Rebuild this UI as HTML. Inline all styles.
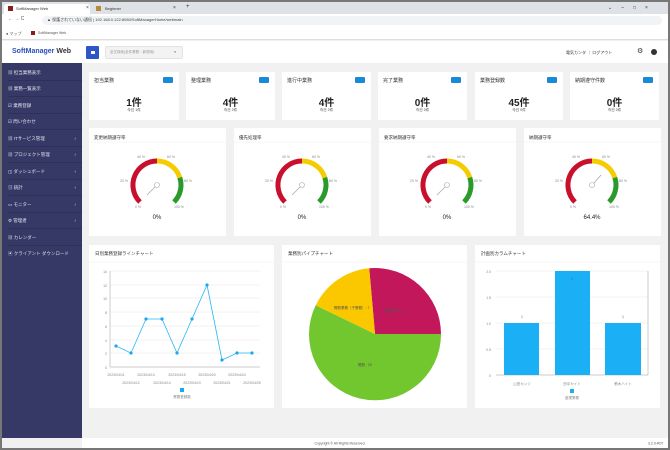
<!DOCTYPE html>
<html><head><meta charset="utf-8"><style>
*{margin:0;padding:0;box-sizing:border-box}
body{width:670px;height:450px;overflow:hidden;background:#777;font-family:"Liberation Sans","Noto Sans CJK JP",sans-serif;position:relative}
.a{position:absolute}
.card{position:absolute;background:#fff}
.t{font-size:5px;color:#333;position:absolute}
.sb div{position:absolute;left:6px;font-size:4.5px;color:#dfe0ee;height:16px;line-height:16px;width:74px;border-bottom:1px solid #2d3158}
.badge{position:absolute;width:10px;height:6px;background:#1a8ad6;border-radius:1px}
.big{position:absolute;left:0;right:0;text-align:center;font-size:10px;font-weight:bold;color:#222}
.sm{position:absolute;left:0;right:0;text-align:center;font-size:3.5px;color:#444}
</style></head><body>
<div class="a" style="left:2px;top:2px;width:666px;height:446px;background:#f1f1f1"></div>
<div class="a" style="left:2px;top:2px;width:666px;height:12px;background:#dee1e6"></div>
<div class="a" style="left:4px;top:4px;width:86px;height:10px;background:#fff;border-radius:3px 3px 0 0"></div>
<div class="a" style="left:8px;top:6px;width:5px;height:5px;background:#8b1c1c"></div>
<div class="t" style="left:16px;top:6px;font-size:4px">SoftManager Web</div>
<div class="t" style="left:86px;top:5px;font-size:5px">×</div>
<div class="a" style="left:96px;top:6px;width:5px;height:5px;background:#b58b3a"></div>
<div class="t" style="left:105px;top:6px;font-size:4px">Beginner</div>
<div class="t" style="left:173px;top:5px;font-size:5px">×</div>
<div class="t" style="left:186px;top:4px;font-size:6px">+</div>
<div class="t" style="left:608px;top:5px;font-size:5px;letter-spacing:9px">⌄–□×</div>
<div class="a" style="left:2px;top:14px;width:666px;height:13px;background:#fff"></div>
<div class="a" style="left:42px;top:16px;width:620px;height:9px;background:#f1f3f4;border-radius:5px"></div>
<div class="t" style="left:8px;top:16px;font-size:5px;color:#555">←  →  C</div>
<div class="t" style="left:47px;top:17px;font-size:4px;color:#444">▲ 保護されていない通信 | 192.168.0.122:8080/SoftManagerHome/webmain</div>
<div class="a" style="left:2px;top:27px;width:666px;height:13px;background:#fff;border-bottom:1px solid #ddd"></div>
<div class="t" style="left:6px;top:31px;font-size:4px;color:#555">● マップ</div>
<div class="a" style="left:31px;top:31px;width:4px;height:4px;background:#8b1c1c"></div>
<div class="t" style="left:38px;top:31px;font-size:3.5px;color:#555">SoftManager Web</div>
<div class="a" style="left:2px;top:41px;width:666px;height:22px;background:#fff"></div>
<div class="t" style="left:12px;top:48px;font-size:7px;color:#2b4fb8;font-weight:bold">SoftManager <span style="color:#333">Web</span></div>
<div class="a" style="left:86px;top:46px;width:13px;height:13px;background:#2d56c8;border-radius:1px"></div>
<div class="a" style="left:91px;top:51px;width:4px;height:3px;background:#fff"></div>
<div class="a" style="left:105px;top:46px;width:78px;height:13px;background:#f3f3f3;border:1px solid #e3e3e3;border-radius:2px"></div>
<div class="t" style="left:110px;top:50px;font-size:3.5px;color:#999">全文検索(全件業務・新規用)</div>
<div class="t" style="left:174px;top:49px;font-size:4px;color:#555">⌕</div>
<div class="t" style="left:566px;top:50px;font-size:4px;color:#333">電気カンタ ｜ ログアウト</div>
<div class="t" style="left:637px;top:47px;font-size:7px;color:#333">⚙</div>
<div class="a" style="left:651px;top:49px;width:6px;height:6px;border-radius:50%;background:#333"></div>
<div class="a sb" style="left:2px;top:63px;width:80px;height:375px;background:#363966">
<div style="top:2px">▦ 担当業務表示</div>
<div style="top:18px">▦ 業務一覧表示</div>
<div style="top:35px">☑ 業務登録</div>
<div style="top:51px">☑ 問い合わせ</div>
<div style="top:68px">▦ ITサービス管理 <span style="float:right;margin-right:6px">‹</span></div>
<div style="top:84px">▦ プロジェクト管理 <span style="float:right;margin-right:6px">‹</span></div>
<div style="top:101px">◫ ダッシュボード <span style="float:right;margin-right:6px">‹</span></div>
<div style="top:117px">▥ 統計 <span style="float:right;margin-right:6px">‹</span></div>
<div style="top:134px">▭ モニター <span style="float:right;margin-right:6px">‹</span></div>
<div style="top:150px">⚙ 管理者 <span style="float:right;margin-right:6px">‹</span></div>
<div style="top:167px">▦ カレンダー</div>
<div style="top:183px;border:none">▣ クライアント ダウンロード</div>
</div>
<div class="card" style="left:89px;top:72px;width:90px;height:48px"><div class="t" style="left:5px;top:5px">担当業務</div><div class="badge" style="left:74px;top:5px"></div><div class="big" style="top:22px">1件</div><div class="sm" style="top:36px">今日 1件</div></div>
<div class="card" style="left:186px;top:72px;width:89px;height:48px"><div class="t" style="left:5px;top:5px">整理業務</div><div class="badge" style="left:73px;top:5px"></div><div class="big" style="top:22px">4件</div><div class="sm" style="top:36px">今日 2件</div></div>
<div class="card" style="left:282px;top:72px;width:89px;height:48px"><div class="t" style="left:5px;top:5px">進行中業務</div><div class="badge" style="left:73px;top:5px"></div><div class="big" style="top:22px">4件</div><div class="sm" style="top:36px">今日 2件</div></div>
<div class="card" style="left:378px;top:72px;width:89px;height:48px"><div class="t" style="left:5px;top:5px">完了業務</div><div class="badge" style="left:73px;top:5px"></div><div class="big" style="top:22px">0件</div><div class="sm" style="top:36px">今日 0件</div></div>
<div class="card" style="left:475px;top:72px;width:88px;height:48px"><div class="t" style="left:5px;top:5px">業務登録数</div><div class="badge" style="left:72px;top:5px"></div><div class="big" style="top:22px">45件</div><div class="sm" style="top:36px">今日 0件</div></div>
<div class="card" style="left:570px;top:72px;width:89px;height:48px"><div class="t" style="left:5px;top:5px">納期遵守件数</div><div class="badge" style="left:73px;top:5px"></div><div class="big" style="top:22px">0件</div><div class="sm" style="top:36px">今日 0件</div></div>
<svg class="a" style="left:0;top:0" width="670" height="450" font-family="Liberation Sans" font-size="3.5" fill="#888">
<defs>
<g id="g">
<rect x="-68" y="-57" width="137" height="108" fill="#fff"/>
<line x1="-68" y1="-43" x2="69" y2="-43" stroke="#eee" stroke-width="0.5"/>
<path d="M-17,17 A24,24 0 0 1 0,-24" fill="none" stroke="#c8102e" stroke-width="5"/>
<path d="M0,-24 A24,24 0 0 1 22.8,-7.4" fill="none" stroke="#f4cc00" stroke-width="5"/>
<path d="M22.8,-7.4 A24,24 0 0 1 17,17" fill="none" stroke="#2a9a2a" stroke-width="5"/>
<text x="-22" y="23">0 %</text><text x="-37" y="-3">20 %</text><text x="-20" y="-27">40 %</text><text x="10" y="-27">60 %</text><text x="27" y="-3">80 %</text><text x="17" y="23">100 %</text>
<circle cx="0" cy="0" r="2.5" fill="#fff" stroke="#aaa" stroke-width="0.6"/>
</g>
</defs>
<use href="#g" x="157" y="185"/><use href="#g" x="302" y="185"/><use href="#g" x="447" y="185"/><use href="#g" x="592" y="185"/>
<g stroke="#aaa" stroke-width="0.8"><line x1="155" y1="187" x2="147" y2="195"/><line x1="300" y1="187" x2="292" y2="195"/><line x1="445" y1="187" x2="437" y2="195"/><line x1="594" y1="183" x2="601" y2="175"/></g>
<g fill="#222" font-size="6" text-anchor="middle"><text x="157" y="219">0%</text><text x="302" y="219">0%</text><text x="447" y="219">0%</text><text x="592" y="219">64.4%</text></g>
<g fill="#333" font-size="4.5" font-family="Liberation Sans, Noto Sans CJK JP"><text x="94" y="139">変更納期遵守率</text><text x="239" y="139">優先処理率</text><text x="384" y="139">要求納期遵守率</text><text x="529" y="139">納期遵守率</text></g>
<rect x="89" y="245" width="185" height="163" fill="#fff"/><rect x="282" y="245" width="185" height="163" fill="#fff"/><rect x="475" y="245" width="185" height="163" fill="#fff"/>
<g stroke="#eee" stroke-width="0.5"><line x1="89" y1="262" x2="274" y2="262"/><line x1="282" y1="262" x2="467" y2="262"/><line x1="475" y1="262" x2="660" y2="262"/></g>
<g fill="#333" font-size="4.5" font-family="Liberation Sans, Noto Sans CJK JP"><text x="95" y="255">日別業務登録ラインチャート</text><text x="288" y="255">業務別パイプチャート</text><text x="481" y="255">計画別カラムチャート</text></g>
<g stroke="#e6e6e6" stroke-width="0.5">
<line x1="110" y1="271" x2="260" y2="271"/><line x1="110" y1="285" x2="260" y2="285"/><line x1="110" y1="298" x2="260" y2="298"/><line x1="110" y1="312" x2="260" y2="312"/><line x1="110" y1="326" x2="260" y2="326"/><line x1="110" y1="340" x2="260" y2="340"/><line x1="110" y1="353" x2="260" y2="353"/></g>
<line x1="110" y1="271" x2="110" y2="367" stroke="#999" stroke-width="0.5"/><line x1="110" y1="367" x2="260" y2="367" stroke="#999" stroke-width="0.5"/>
<g text-anchor="end"><text x="107" y="273">14</text><text x="107" y="287">12</text><text x="107" y="300">10</text><text x="107" y="314">8</text><text x="107" y="328">6</text><text x="107" y="342">4</text><text x="107" y="355">2</text><text x="107" y="369">0</text></g>
<polyline fill="none" stroke="#29b6f6" stroke-width="0.8" points="116,346 131,353 146,319 162,319 177,353 192,319 207,285 222,360 237,353 252,353"/>
<g fill="#1ba9ee"><circle cx="116" cy="346" r="1.6"/><circle cx="131" cy="353" r="1.6"/><circle cx="146" cy="319" r="1.6"/><circle cx="162" cy="319" r="1.6"/><circle cx="177" cy="353" r="1.6"/><circle cx="192" cy="319" r="1.6"/><circle cx="207" cy="285" r="1.6"/><circle cx="222" cy="360" r="1.6"/><circle cx="237" cy="353" r="1.6"/><circle cx="252" cy="353" r="1.6"/></g>
<g text-anchor="middle"><text x="116" y="376">2023/04/11</text><text x="146" y="376">2023/04/13</text><text x="177" y="376">2023/04/15</text><text x="207" y="376">2023/04/20</text><text x="237" y="376">2023/04/24</text>
<text x="131" y="384">2023/04/12</text><text x="162" y="384">2023/04/14</text><text x="192" y="384">2023/04/19</text><text x="222" y="384">2023/04/21</text><text x="252" y="384">2023/04/25</text>
<text x="182" y="398" font-family="Liberation Sans, Noto Sans CJK JP">業務登録数</text></g>
<rect x="180" y="388" width="4" height="4" fill="#1ba9ee"/>
<path d="M375,334 L369.2,268.3 A66,66 0 0 1 441,334 Z" fill="#c2185b"/>
<path d="M375,334 L441,334 A66,66 0 1 1 315.7,305.3 Z" fill="#72c72f"/>
<path d="M375,334 L315.7,305.3 A66,66 0 0 1 369.2,268.3 Z" fill="#fbc800"/>
<g fill="#555" font-family="Liberation Sans, Noto Sans CJK JP"><text x="334" y="309">開発業務（子業務）: 7</text><text x="384" y="312">開発業務 : 12</text><text x="358" y="366">開発 : 25</text></g>
<g stroke="#e6e6e6" stroke-width="0.5"><line x1="496" y1="271" x2="648" y2="271"/><line x1="496" y1="297" x2="648" y2="297"/><line x1="496" y1="323" x2="648" y2="323"/><line x1="496" y1="349" x2="648" y2="349"/></g>
<line x1="496" y1="375" x2="648" y2="375" stroke="#999" stroke-width="0.5"/><line x1="648" y1="271" x2="648" y2="375" stroke="#999" stroke-width="0.5"/>
<g text-anchor="end"><text x="491" y="273">2.0</text><text x="491" y="299">1.5</text><text x="491" y="325">1.0</text><text x="491" y="351">0.5</text><text x="491" y="377">0</text></g>
<rect x="504" y="323" width="35" height="52" fill="#1bb0f5"/><rect x="555" y="271" width="35" height="104" fill="#1bb0f5"/><rect x="605" y="323" width="36" height="52" fill="#1bb0f5"/>
<g text-anchor="middle" fill="#666"><text x="522" y="318">1</text><text x="572" y="280">2</text><text x="623" y="318">1</text></g>
<g text-anchor="middle" font-family="Liberation Sans, Noto Sans CJK JP"><text x="522" y="385">山田カンジ</text><text x="572" y="385">田中カイト</text><text x="623" y="385">鈴木ハイト</text><text x="572" y="399">整理業務</text></g>
<rect x="570" y="389" width="4" height="4" fill="#1bb0f5"/>
<rect x="82" y="438" width="586" height="10" fill="#fff"/>
<text x="340" y="444.5" text-anchor="middle" font-size="3.5" fill="#555">Copyright © All Rights Reserved.</text>
<text x="648" y="444.5" font-size="3.5" fill="#555">3.2.0-R07</text>
</svg>
</body></html>
